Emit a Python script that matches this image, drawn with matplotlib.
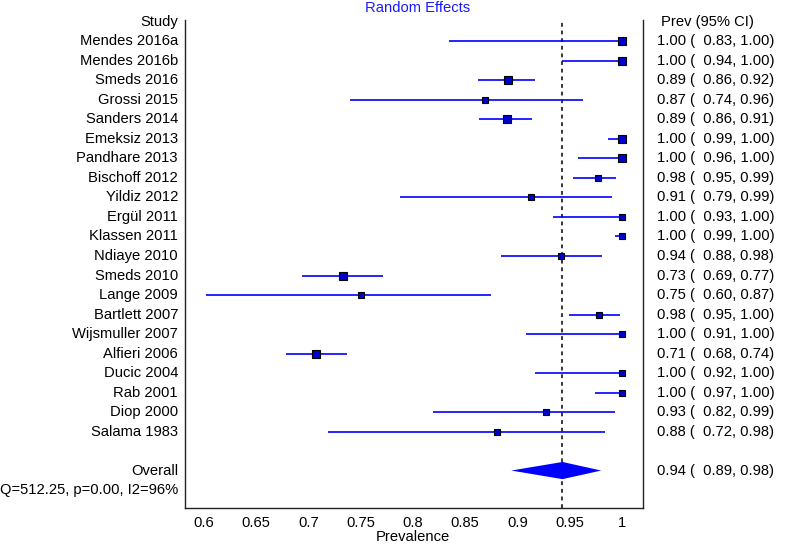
import matplotlib
matplotlib.use("Agg")
import matplotlib.pyplot as plt
import matplotlib.transforms as mtransforms

plt.rcParams['font.family'] = ['Liberation Sans', 'DejaVu Sans']

studies = ["Mendes 2016a", "Mendes 2016b", "Smeds 2016", "Grossi 2015", "Sanders 2014",
           "Emeksiz 2013", "Pandhare 2013", "Bischoff 2012", "Yildiz 2012", "Ergül 2011",
           "Klassen 2011", "Ndiaye 2010", "Smeds 2010", "Lange 2009", "Bartlett 2007",
           "Wijsmuller 2007", "Alfieri 2006", "Ducic 2004", "Rab 2001", "Diop 2000",
           "Salama 1983"]
prev = [1.00, 1.00, 0.891, 0.869, 0.890, 1.00, 1.00, 0.977, 0.913, 1.00,
        1.00, 0.942, 0.733, 0.750, 0.978, 1.00, 0.707, 1.00, 1.00, 0.927, 0.880]
ci_low = [0.834, 0.943, 0.862, 0.740, 0.863, 0.987, 0.958, 0.953, 0.788, 0.934,
          0.993, 0.884, 0.694, 0.602, 0.949, 0.908, 0.679, 0.917, 0.974, 0.819, 0.719]
ci_high = [1.00, 1.00, 0.917, 0.963, 0.914, 1.00, 1.00, 0.994, 0.990, 1.00,
           1.00, 0.981, 0.771, 0.8746, 0.9976, 1.00, 0.737, 1.00, 1.00, 0.993, 0.984]
weights = [4.9, 4.9, 5.3, 4.3, 5.3, 4.9, 4.9, 4.4, 4.6, 4.6,
           4.6, 4.3, 5.3, 4.3, 4.6, 4.6, 5.3, 4.6, 4.6, 4.6, 4.3]
overall = [0.943, 0.894, 0.980]
heterogeneity = "Q=512.25, p=0.00, I2=96%"
xticks = [0.6, 0.65, 0.7, 0.75, 0.8, 0.85, 0.9, 0.95, 1.0]
xtick_labels = ["0.6", "0.65", "0.7", "0.75", "0.8", "0.85", "0.9", "0.95", "1"]

W, H = 785, 546
fig = plt.figure(figsize=(W / 100, H / 100), dpi=100)
ax = fig.add_axes([185 / W, 1 - 508 / H, (643 - 185) / W, (508 - 20) / H])

n = len(studies)
rows = list(range(1, n + 1))
row_overall = n + 2
row_q = n + 3

blue = '#0000ff'
for y, p, lo, hi, w in zip(rows, prev, ci_low, ci_high, weights):
    ax.plot([lo, hi], [y, y], color=blue, lw=1.2, solid_capstyle='butt', zorder=2)
    ax.plot([p], [y], marker='s', ms=5.8 * (w / 5.3) ** 1.5, mfc='#0000cc',
            mec='black', mew=0.8, zorder=3)

est, lo, hi = overall
h = 0.44
ax.fill([lo, est, hi, est], [row_overall, row_overall - h, row_overall, row_overall + h],
        color=blue, lw=0, zorder=3)

ax.axvline(est, color='black', lw=1.1, ls=(0, (2.5, 2.5)), zorder=1)

fs = 10.6
ax.set_xlim(0.582, 1.020)
ax.set_ylim(24.92, -0.10)
ax.set_yticks([])
ax.set_xticks(xticks)
ax.set_xticklabels(xtick_labels, fontsize=fs)
ax.tick_params(axis='x', length=0, pad=6)
ax.spines['top'].set_visible(False)
for s in ['left', 'right', 'bottom']:
    ax.spines[s].set_linewidth(1.0)
    ax.spines[s].set_color('#222222')
fig.text(413 / W, 1 - 537 / H, "Prevalence", ha='center', va='center', fontsize=fs)

tr = mtransforms.blended_transform_factory(fig.transFigure, ax.transData)
xl = 178 / W
xr = 657 / W
ax.text(xl, 0, "Study", transform=tr, ha='right', va='center', fontsize=fs)
ax.text(661 / W, 0, "Prev (95% CI)", transform=tr, ha='left', va='center', fontsize=fs)
for y, name, p, lo_, hi_ in zip(rows, studies, prev, ci_low, ci_high):
    ax.text(xl, y, name, transform=tr, ha='right', va='center', fontsize=fs)
    ax.text(xr, y, f"{p:.2f} (  {lo_:.2f}, {hi_:.2f})", transform=tr, ha='left',
            va='center', fontsize=fs)
ax.text(xl, row_overall, "Overall", transform=tr, ha='right', va='center', fontsize=fs)
ax.text(xr, row_overall, f"{est:.2f} (  {lo:.2f}, {hi:.2f})", transform=tr, ha='left',
        va='center', fontsize=fs)
ax.text(xl, row_q, heterogeneity, transform=tr, ha='right', va='center', fontsize=fs)

fig.text(418 / W, 1 - 8 / H, "Random Effects", color='#1a1aff', ha='center',
         va='center', fontsize=fs)

fig.savefig("out.png", dpi=100)
